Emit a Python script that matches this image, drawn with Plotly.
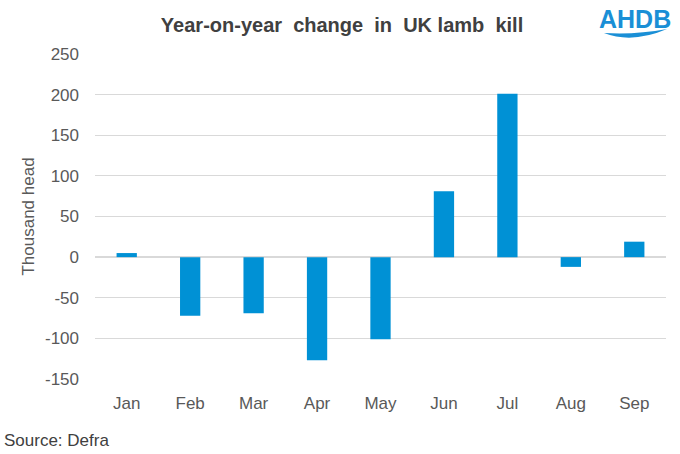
import plotly.graph_objects as go

months = ["Jan", "Feb", "Mar", "Apr", "May", "Jun", "Jul", "Aug", "Sep"]
change = [5, -72, -69, -127, -101, 81, 201, -12, 19]
yticks = [-150, -100, -50, 0, 50, 100, 150, 200, 250]
ytick_text = ["-150", "-100", "-50", "0", "50", "100", "150", "200", "250"]

fig = go.Figure()
fig.add_trace(go.Bar(x=months, y=change, marker_color="#0091D5", marker_line_width=0))

title = "<b>Year-on-year\u00a0 change\u00a0 in\u00a0 UK lamb\u00a0 kill</b>"

fig.update_layout(
    width=680, height=454,
    margin=dict(l=95, r=14, t=54, b=75),
    paper_bgcolor="white", plot_bgcolor="white",
    font=dict(family="Liberation Sans, Arial, sans-serif", color="#595959", size=17),
    bargap=0.68,
    showlegend=False,
    title=dict(text=title, x=0.503, xanchor="center",
               y=0.945, yanchor="middle",
               font=dict(size=20, color="#404040")),
    xaxis=dict(showgrid=False, showline=False, ticks="", ticklabelstandoff=12,
               tickfont=dict(size=17, color="#595959")),
    yaxis=dict(range=[-150, 250], tickvals=yticks, ticktext=ytick_text,
               showgrid=True, gridcolor="#d9d9d9", gridwidth=1,
               zeroline=True, zerolinecolor="#d9d9d9", zerolinewidth=1.5,
               showline=False, ticks="", ticklabelstandoff=15,
               title=dict(text="Thousand head", font=dict(size=17, color="#595959"), standoff=6),
               tickfont=dict(size=17, color="#595959")),
    annotations=[
        dict(text="Source: Defra", x=0, xref="paper", xanchor="left", xshift=-93,
             y=-0.188, yref="paper", yanchor="middle", showarrow=False,
             font=dict(size=17, color="#404040")),
        dict(text="<b>AHDB</b>", x=0.9457, xref="paper", xanchor="center",
             y=1.108, yref="paper", yanchor="middle", showarrow=False,
             font=dict(size=25, color="#1a8fd6", family="Liberation Sans, Arial, sans-serif")),
    ],
    shapes=[
        dict(type="path", xref="paper", yref="paper",
             path="M 0.8914 1.0646 Q 0.9457 1.0585 1.0018 1.0769 Q 0.9405 1.0308 0.8914 1.0646 Z",
             fillcolor="#1a8fd6", line=dict(width=0)),
    ],
)

fig.write_html("out.html", config={"displayModeBar": False},
               post_script="document.body.style.margin='0';")
